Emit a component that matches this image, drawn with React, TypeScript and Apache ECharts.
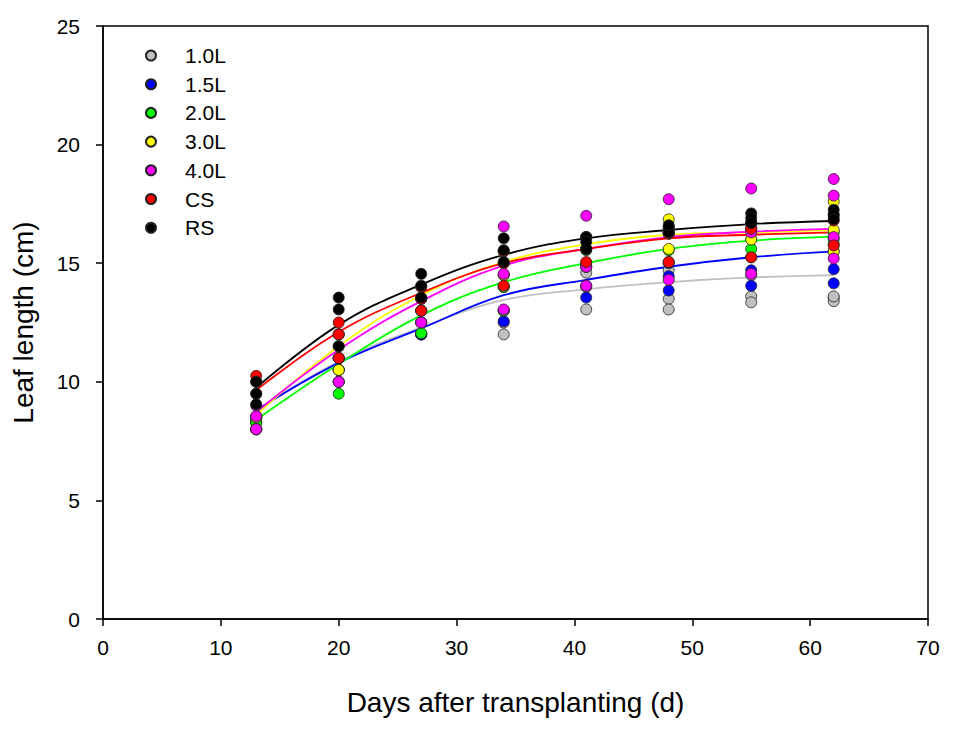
import React, { useEffect, useRef } from "react";
import * as echarts from "echarts";

const days = [13, 20, 27, 34, 41, 48, 55, 62];
const xTicks = [0, 10, 20, 30, 40, 50, 60, 70];
const yTicks = [0, 5, 10, 15, 20, 25];

const names = ["1.0L", "1.5L", "2.0L", "3.0L", "4.0L", "CS", "RS"];
const colors = ["#c0c0c0", "#0000ff", "#00ff00", "#ffff00", "#ff00ff", "#ff0000", "#000000"];

// observed replicates per day
const obs10L = [[8.3, 8.0, 8.5], [10.5, 11.0, 10.0], [12.0, 12.5, 12.0], [12.0, 13.0, 12.5], [14.6, 13.05, 14.0], [14.7, 13.5, 13.05], [13.6, 13.35, 14.5], [13.55, 13.4, 13.6]];
const obs15L = [[8.5, 8.3, 8.0], [10.5, 11.0, 10.0], [12.0, 12.5, 12.0], [12.55, 13.0, 14.0], [13.55, 14.05, 14.85], [14.45, 13.85, 15.0], [14.7, 14.05, 15.25], [14.75, 14.15, 15.5]];
const obs20L = [[8.28, 8.0, 8.5], [9.5, 10.5, 11.0], [12.05, 12.5, 13.0], [14.0, 14.5, 13.0], [15.0, 14.85, 15.55], [15.55, 15.05, 16.25], [15.6, 16.0, 16.45], [16.0, 16.3, 15.8]];
const obs30L = [[8.55, 8.0, 8.5], [10.5, 11.5, 12.0], [13.0, 13.5, 14.0], [15.0, 15.5, 14.5], [15.6, 16.1, 15.6], [16.85, 15.6, 16.25], [16.0, 16.45, 16.7], [17.6, 16.4, 15.5]];
const obs40L = [[8.55, 8.0, 9.0], [10.0, 11.0, 12.0], [12.5, 13.0, 13.5], [16.55, 14.55, 13.05], [17.0, 14.85, 14.05], [17.7, 14.3, 16.3], [18.15, 14.55, 16.3], [18.55, 17.85, 16.1, 15.2]];
const obsCS = [[10.25, 10.0, 9.5], [12.5, 12.0, 11.0], [13.0, 13.5, 14.0], [14.05, 15.0, 15.5], [15.05, 15.6, 16.1], [16.25, 15.05, 16.5], [16.45, 15.25, 16.7], [15.75, 16.8, 17.0]];
const obsRS = [[10.0, 9.5, 9.05], [13.55, 13.05, 11.5], [14.55, 14.05, 13.55], [16.05, 15.55, 15.05], [16.1, 15.6, 15.9], [16.5, 16.3, 16.6], [17.1, 16.9, 16.7], [17.25, 17.05, 16.85]];

// fitted curve values read at each sampling day
const fit10L = [8.8, 10.85, 12.3, 13.45, 13.9, 14.2, 14.4, 14.5];
const fit15L = [8.8, 10.8, 12.25, 13.65, 14.3, 14.85, 15.25, 15.5];
const fit20L = [8.4, 10.75, 12.8, 14.2, 15.0, 15.6, 15.95, 16.12];
const fit30L = [8.6, 11.5, 13.65, 15.05, 15.8, 16.2, 16.3, 16.4];
const fit40L = [8.72, 11.35, 13.4, 14.9, 15.6, 16.1, 16.33, 16.45];
const fitCS = [9.65, 12.1, 13.75, 15.0, 15.6, 16.05, 16.2, 16.3];
const fitRS = [9.75, 12.4, 14.1, 15.35, 16.05, 16.4, 16.65, 16.78];

const observed = [obs10L, obs15L, obs20L, obs30L, obs40L, obsCS, obsRS];
const fitted = [fit10L, fit15L, fit20L, fit30L, fit40L, fitCS, fitRS];

const FONT = "'Liberation Sans', Arial, sans-serif";

export default function App() {
  const ref = useRef<HTMLDivElement>(null);
  useEffect(() => {
    if (!ref.current) return;
    const chart = echarts.init(ref.current, null, { renderer: "svg" });
    const lineSeries = names.map((n, i) => ({
      name: n + " fit",
      type: "line",
      data: days.map((d, k) => [d, fitted[i][k]]),
      smooth: 0.4,
      showSymbol: false,
      symbol: "none",
      z: 2,
      lineStyle: { color: colors[i], width: 1.8 },
      itemStyle: { color: colors[i] },
      silent: true,
    }));
    const scatterSeries = names.map((n, i) => {
      const pts: number[][] = [];
      observed[i].forEach((vals, k) => vals.forEach((v) => pts.push([days[k], v])));
      return {
        name: n,
        type: "scatter",
        data: pts,
        symbol: "circle",
        symbolSize: 11,
        z: 3,
        itemStyle: { color: colors[i], borderColor: "#222", borderWidth: 0.8, opacity: 1 },
      };
    });
    chart.setOption({
      animation: false,
      backgroundColor: "#fff",
      grid: {
        left: 103, right: 26, top: 26, bottom: 111,
        show: true, borderColor: "#000", borderWidth: 1.5, backgroundColor: "transparent",
      },
      legend: {
        orient: "vertical",
        left: 140,
        top: 40,
        itemWidth: 10,
        itemHeight: 10,
        itemGap: 7.7,
        icon: "circle",
        data: names,
        selectedMode: false,
        textStyle: { fontSize: 21, lineHeight: 20, color: "#000", fontFamily: FONT, padding: [0, 0, 0, 24] },
      },
      xAxis: {
        type: "value",
        min: xTicks[0],
        max: xTicks[xTicks.length - 1],
        interval: 10,
        name: "Days after transplanting (d)",
        nameLocation: "middle",
        nameGap: 69,
        nameTextStyle: { fontSize: 28, color: "#000", fontFamily: FONT },
        axisLine: { lineStyle: { color: "#000", width: 1.5 } },
        axisTick: { show: true, inside: false, length: 7, lineStyle: { color: "#000", width: 1.5 } },
        axisLabel: { fontSize: 21, color: "#000", margin: 18, fontFamily: FONT },
        splitLine: { show: false },
      },
      yAxis: {
        type: "value",
        min: yTicks[0],
        max: yTicks[yTicks.length - 1],
        interval: 5,
        name: "Leaf length (cm)",
        nameLocation: "middle",
        nameGap: 66,
        nameTextStyle: { fontSize: 28, color: "#000", fontFamily: FONT },
        axisLine: { lineStyle: { color: "#000", width: 1.5 } },
        axisTick: { show: true, inside: false, length: 7, lineStyle: { color: "#000", width: 1.5 } },
        axisLabel: { fontSize: 21, color: "#000", margin: 23, fontFamily: FONT },
        splitLine: { show: false },
      },
      series: [...lineSeries, ...scatterSeries],
    });
    return () => chart.dispose();
  }, []);
  return <div ref={ref} style={{ position: "absolute", left: 0, top: 0, width: 954, height: 730 }} />;
}
